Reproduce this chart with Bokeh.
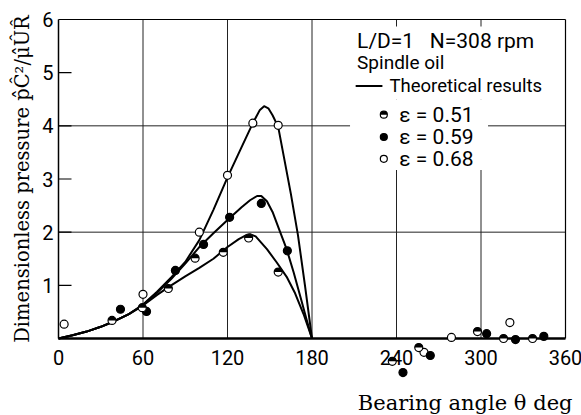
import math
from bokeh.plotting import figure
from bokeh.models import Range1d, Label
from bokeh.core.properties import value
from bokeh.embed import file_html
from bokeh.resources import INLINE

# ---- data ----
x_ticks = [0, 60, 120, 180, 240, 300, 360]
y_ticks = [0, 1, 2, 3, 4, 5, 6]
grid_x = [60, 120, 180, 240, 300]
grid_y = [2, 4]

# theoretical curves
theta_068 = [0, 10, 20, 30, 40, 50, 60, 70, 80, 90, 100, 110, 120, 130, 138, 143, 146, 149, 152, 156, 160, 165, 170, 175, 180]
p_068 = [0, 0.06, 0.13, 0.22, 0.33, 0.46, 0.64, 0.88, 1.15, 1.44, 1.85, 2.42, 3.03, 3.6, 4.05, 4.3, 4.37, 4.33, 4.2, 3.98, 3.42, 2.72, 1.95, 1.0, 0]

theta_059 = [0, 10, 20, 30, 40, 50, 60, 70, 80, 90, 100, 110, 120, 130, 136, 141, 144, 148, 152, 157, 162, 167, 172, 176, 180]
p_059 = [0, 0.06, 0.13, 0.22, 0.33, 0.46, 0.63, 0.86, 1.12, 1.41, 1.72, 1.98, 2.23, 2.47, 2.6, 2.68, 2.68, 2.58, 2.38, 2.03, 1.68, 1.24, 0.76, 0.37, 0]

theta_051 = [0, 10, 20, 30, 40, 50, 60, 70, 80, 90, 100, 110, 120, 128, 133, 136, 140, 148, 155, 162, 168, 174, 180]
p_051 = [0, 0.06, 0.13, 0.22, 0.33, 0.46, 0.62, 0.82, 1.0, 1.17, 1.33, 1.5, 1.72, 1.87, 1.94, 1.96, 1.92, 1.68, 1.43, 1.16, 0.85, 0.46, 0]

# measured points
x68 = [4, 60, 100, 120, 138, 156, 259.5, 279, 320.5]
y68 = [0.27, 0.83, 2.0, 3.07, 4.05, 4.01, -0.26, 0.02, 0.30]
x59 = [44, 62.5, 83, 103, 121.5, 144, 162.5, 244.6, 264, 304, 324.5, 344.6]
y59 = [0.55, 0.51, 1.28, 1.77, 2.28, 2.54, 1.65, -0.64, -0.32, 0.09, -0.02, 0.04]
x51 = [38, 59.5, 78, 97, 117, 135, 156, 237, 255.8, 297.5, 316, 336.6]
y51 = [0.34, 0.58, 0.94, 1.51, 1.62, 1.89, 1.25, -0.43, -0.17, 0.13, 0.0, 0.0]

legend_eps = ["ε = 0.51", "ε = 0.59", "ε = 0.68"]

# ---- figure: the frame fills the whole page; axes are drawn in data space ----
W, H = 581, 415
L_PX, R_PX, T_PX, B_PX = 58, 565, 19, 338   # where 0/360 and 6/0 sit on the page
sx = (R_PX - L_PX) / (x_ticks[-1] - x_ticks[0])
sy = (B_PX - T_PX) / (y_ticks[-1] - y_ticks[0])
x_rng = Range1d(x_ticks[0] - L_PX / sx, x_ticks[-1] + (W - R_PX) / sx)
y_rng = Range1d(y_ticks[0] - (H - B_PX) / sy, y_ticks[-1] + T_PX / sy)

p = figure(width=W, height=H, x_range=x_rng, y_range=y_rng, title=None,
           output_backend="svg", toolbar_location=None,
           x_axis_location=None, y_axis_location=None, min_border=0)
p.outline_line_color = None
p.background_fill_color = "white"
p.border_fill_color = "white"
p.xgrid.visible = False
p.ygrid.visible = False

TICK_FONT = "Roboto"
SERIF = "DejaVu Serif"
LEG_FONT = "Roboto"
x0, x1 = x_ticks[0], x_ticks[-1]
y0, y1 = y_ticks[0], y_ticks[-1]

# grid lines (inside the box only)
p.segment(x0=grid_x, y0=[y0] * len(grid_x), x1=grid_x, y1=[y1] * len(grid_x),
          line_color="#222222", line_width=1)
p.segment(x0=[x0] * len(grid_y), y0=grid_y, x1=[x1] * len(grid_y), y1=grid_y,
          line_color="#222222", line_width=1)

# white area behind the legend text
p.quad(left=[207, 207], right=[346, 305], bottom=[4.49, 3.17], top=[5.87, 4.49],
       fill_color="white", line_color=None)

# frame / axes lines
p.line([x0, x1], [y0, y0], line_color="black", line_width=2.5)
p.line([x0, x0], [y0, y1], line_color="black", line_width=1.5)
p.line([x0, x1], [y1, y1], line_color="black", line_width=1.2)
p.line([x1, x1], [y0, y1], line_color="black", line_width=1.2)
# inward y ticks
p.ray(x=[x0] * (len(y_ticks) - 2), y=y_ticks[1:-1], length=13, length_units="screen",
      angle=0, line_color="black", line_width=1.2)

# tick labels
p.text(x=x_ticks, y=[y0] * len(x_ticks), text=[str(t) for t in x_ticks],
       text_font=value(TICK_FONT), text_font_size="20px", text_color="black",
       text_align="center", text_baseline="middle", y_offset=19)
p.text(x=[x0] * (len(y_ticks) - 1), y=y_ticks[1:], text=[str(t) for t in y_ticks[1:]],
       text_font=value(TICK_FONT), text_font_size="20px", text_color="black",
       text_align="right", text_baseline="middle", x_offset=-5)

# theoretical curves
for th, pr in ((theta_068, p_068), (theta_059, p_059), (theta_051, p_051)):
    p.line(th, pr, line_color="black", line_width=2, line_join="round")

# measured points
MS = 8
p.scatter(x68, y68, marker="circle", size=MS, fill_color="white", line_color="black", line_width=1.2)
p.scatter(x59, y59, marker="circle", size=MS, fill_color="black", line_color="black", line_width=1.2)
p.scatter(x51, y51, marker="circle", size=MS, fill_color="white", line_color="black", line_width=1.2)
p.wedge(x51, y51, radius=4, radius_units="screen", start_angle=0, end_angle=math.pi,
        fill_color="black", line_color=None)

# legend
p.add_layout(Label(x=212, y=5.6, text="L/D=1\u00a0\u00a0 N=308 rpm", text_font=LEG_FONT,
                   text_font_size="21px", text_baseline="middle", text_color="black"))
p.add_layout(Label(x=212, y=5.19, text="Spindle oil", text_font=LEG_FONT,
                   text_font_size="19px", text_baseline="middle", text_color="black"))
p.line([211, 230], [4.75, 4.75], line_color="black", line_width=2)
p.add_layout(Label(x=235, y=4.74, text="Theoretical results", text_font=LEG_FONT,
                   text_font_size="18.5px", text_baseline="middle", text_color="black"))
leg_y = [4.21, 3.79, 3.38]
p.scatter([231], [leg_y[0]], marker="circle", size=7, fill_color="white", line_color="black", line_width=1.2)
p.wedge([231], [leg_y[0]], radius=3.5, radius_units="screen", start_angle=0, end_angle=math.pi,
        fill_color="black", line_color=None)
p.scatter([231], [leg_y[1]], marker="circle", size=7, fill_color="black", line_color="black", line_width=1.2)
p.scatter([231], [leg_y[2]], marker="circle", size=7, fill_color="white", line_color="black", line_width=1.2)
for t, yy in zip(legend_eps, leg_y):
    p.add_layout(Label(x=242, y=yy, text=t, text_font=LEG_FONT, text_font_size="21px",
                       text_baseline="middle", text_color="black"))

# axis titles
p.add_layout(Label(x=x0 - (L_PX - 22) / sx, y=(y0 + y1) / 2,
                   text="Dimensionless pressure p\u0302\u0108\u00b2/\u03bc\u0302\u00dbR\u0302",
                   angle=math.pi / 2, text_font=SERIF, text_font_size="19.5px",
                   text_align="center", text_baseline="middle", text_color="black"))
p.add_layout(Label(x=x1 + 7 / sx, y=y0 - (402 - B_PX) / sy, text="Bearing angle \u03b8 deg",
                   text_font=SERIF, text_font_size="21px", text_align="right",
                   text_baseline="middle", text_color="black"))

open("out.html", "w").write(file_html(p, INLINE))
